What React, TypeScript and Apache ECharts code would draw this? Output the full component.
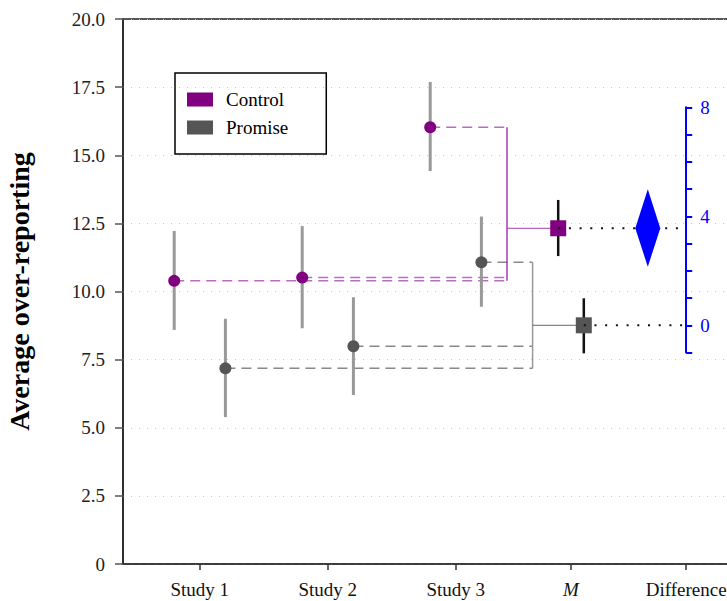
import React, { useEffect, useRef } from 'react';
import * as echarts from 'echarts';

// ---- data ----
const studies = ['Study 1', 'Study 2', 'Study 3'];
const axisLabels = ['Study 1', 'Study 2', 'Study 3', 'M', 'Difference'];
const groups = ['Control', 'Promise'];
const controlMean = [10.39, 10.51, 16.03];
const controlLow = [8.59, 8.65, 14.42];
const controlHigh = [12.22, 12.4, 17.69];
const promiseMean = [7.18, 7.99, 11.07];
const promiseLow = [5.39, 6.2, 9.44];
const promiseHigh = [9.0, 9.79, 12.75];
const pooledMean = [12.32, 8.76]; // Control, Promise
const pooledLow = [11.3, 7.73];
const pooledHigh = [13.36, 9.75];
const diffMean = 3.56;
const diffLow = 2.15;
const diffHigh = 4.99;
const diffTickLabels = [0, 4, 8];

// ---- layout constants ----
const X_POS = [1, 2, 3, 3.9, 4.8];
const OFF = 0.2;
const M_OFF = 0.1;
const JOIN = [3.4, 3.6];
const DIFF_X = 4.5;
const RIGHT_AXIS_X = 4.8;
const X_MIN = 0.4;
const X_MAX = 5.2;
const PX_PER_UNIT = 128;
const SERIF = 'Liberation Serif, Times New Roman, serif';
const PURPLE = '#800080';
const GRAY = '#555555';

type Seg = { a: number[]; b: number[]; style: any };

function buildSegments(): Seg[] {
  const segs: Seg[] = [];
  const cDash = { stroke: 'rgba(160,60,170,0.75)', lineWidth: 1.5, lineDash: [10, 6] };
  const cSolid = { stroke: '#a43cae', lineWidth: 1.5 };
  const cThin = { stroke: '#a43cae', lineWidth: 1 };
  const pDash = { stroke: '#888888', lineWidth: 1.5, lineDash: [10, 6] };
  const pSolid = { stroke: '#999999', lineWidth: 1.5 };
  const pThin = { stroke: '#666666', lineWidth: 1 };
  studies.forEach((_, i) => {
    segs.push({ a: [X_POS[i] - OFF, controlMean[i]], b: [JOIN[0], controlMean[i]], style: cDash });
    segs.push({ a: [X_POS[i] + OFF, promiseMean[i]], b: [JOIN[1], promiseMean[i]], style: pDash });
  });
  segs.push({ a: [JOIN[0], Math.min(...controlMean)], b: [JOIN[0], Math.max(...controlMean)], style: cSolid });
  segs.push({ a: [JOIN[1], Math.min(...promiseMean)], b: [JOIN[1], Math.max(...promiseMean)], style: pSolid });
  segs.push({ a: [JOIN[0], pooledMean[0]], b: [X_POS[3] - M_OFF, pooledMean[0]], style: cThin });
  segs.push({ a: [JOIN[1], pooledMean[1]], b: [X_POS[3] + M_OFF, pooledMean[1]], style: pThin });
  return segs;
}

export default function App() {
  const ref = useRef<HTMLDivElement>(null);
  useEffect(() => {
    if (!ref.current) return;
    const chart = echarts.init(ref.current, undefined, { renderer: 'svg' });
    const segs = buildSegments();
    const dotted = [
      { a: [X_POS[3] - M_OFF, pooledMean[0]], b: [RIGHT_AXIS_X, pooledMean[0]] },
      { a: [X_POS[3] + M_OFF, pooledMean[1]], b: [RIGHT_AXIS_X, pooledMean[1]] },
    ];
    const errBars: { x: number; lo: number; hi: number; color: string; w: number }[] = [];
    studies.forEach((_, i) => {
      errBars.push({ x: X_POS[i] - OFF, lo: controlLow[i], hi: controlHigh[i], color: '#999999', w: 3 });
      errBars.push({ x: X_POS[i] + OFF, lo: promiseLow[i], hi: promiseHigh[i], color: '#999999', w: 3 });
    });
    errBars.push({ x: X_POS[3] - M_OFF, lo: pooledLow[0], hi: pooledHigh[0], color: '#111111', w: 2.5 });
    errBars.push({ x: X_POS[3] + M_OFF, lo: pooledLow[1], hi: pooledHigh[1], color: '#111111', w: 2.5 });

    const lineRender = (list: any[], styleOf: (i: number) => any) => (params: any, api: any) => {
      const s = list[params.dataIndex];
      const p1 = api.coord(s.a);
      const p2 = api.coord(s.b);
      return {
        type: 'line',
        shape: { x1: p1[0], y1: p1[1], x2: p2[0], y2: p2[1] },
        style: styleOf(params.dataIndex),
      };
    };

    const option: any = {
      animation: false,
      textStyle: { fontFamily: SERIF },
      grid: [
        {
          left: 123,
          top: 19,
          height: 545,
          width: (X_MAX - X_MIN) * PX_PER_UNIT,
          containLabel: false,
          outerBoundsMode: 'none',
          show: true,
          borderColor: '#222',
          borderWidth: 1.5,
        },
        {
          left: 123,
          top: 107.3,
          height: 245.25,
          width: (RIGHT_AXIS_X - X_MIN) * PX_PER_UNIT,
          containLabel: false,
          outerBoundsMode: 'none',
          show: false,
        },
      ],
      legend: {
        orient: 'vertical',
        left: 175,
        top: 73,
        icon: 'rect',
        itemWidth: 26,
        itemHeight: 14,
        itemGap: 9,
        padding: [17, 38, 17, 12],
        borderColor: '#000',
        borderWidth: 1.5,
        selectedMode: false,
        textStyle: { fontFamily: SERIF, fontSize: 19, color: '#000', padding: [0, 0, 0, 8] },
        data: groups,
      },
      xAxis: [
        {
          type: 'value',
          gridIndex: 0,
          min: X_MIN,
          max: X_MAX,
          splitLine: { show: false },
          axisLine: { show: true, lineStyle: { color: '#333', width: 1.5 } },
          axisTick: { show: true, customValues: X_POS, length: 6, lineStyle: { color: '#333', width: 1.5 } },
          axisLabel: {
            customValues: X_POS,
            margin: 16,
            fontFamily: SERIF,
            fontSize: 19,
            color: '#111',
            formatter: (v: number) => {
              const i = X_POS.findIndex((p) => Math.abs(p - v) < 1e-6);
              if (i < 0) return '';
              return axisLabels[i] === 'M' ? '{it|M}' : axisLabels[i];
            },
            rich: { it: { fontFamily: SERIF, fontSize: 19, fontStyle: 'italic', color: '#111' } },
          },
        },
        { type: 'value', gridIndex: 1, min: X_MIN, max: RIGHT_AXIS_X, show: false },
      ],
      yAxis: [
        {
          type: 'value',
          gridIndex: 0,
          min: 0,
          max: 20,
          interval: 2.5,
          name: 'Average over-reporting',
          nameLocation: 'middle',
          nameGap: 90,
          nameTextStyle: { fontFamily: SERIF, fontSize: 28, fontWeight: 'bold', color: '#000' },
          axisLine: { show: true, lineStyle: { color: '#222', width: 1.5 } },
          axisTick: { show: true, length: 8, lineStyle: { color: '#555', width: 1.5 } },
          axisLabel: {
            margin: 18,
            fontFamily: SERIF,
            fontSize: 19,
            color: '#222',
            formatter: (v: number) => (v === 0 ? '0' : v.toFixed(1)),
          },
          splitLine: { show: true, lineStyle: { color: '#c8c8c8', width: 1, type: [1, 7] } },
        },
        {
          type: 'value',
          gridIndex: 1,
          position: 'right',
          min: -1,
          max: 8,
          interval: 1,
          axisLine: { show: true, lineStyle: { color: '#0000ff', width: 2 } },
          axisTick: { show: true, length: 6, lineStyle: { color: '#0000ff', width: 2 } },
          axisLabel: {
            margin: 14,
            fontFamily: SERIF,
            fontSize: 19,
            color: '#0000ff',
            formatter: (v: number) => (diffTickLabels.includes(v) ? String(v) : ''),
          },
          splitLine: { show: false },
        },
      ],
      series: [
        {
          type: 'custom',
          name: 'connectors',
          xAxisIndex: 0,
          yAxisIndex: 0,
          z: 2,
          silent: true,
          data: segs.map((s) => [s.a[0], s.a[1], s.b[0], s.b[1]]),
          renderItem: lineRender(segs, (i) => segs[i].style),
        },
        {
          type: 'custom',
          name: 'errorbars',
          xAxisIndex: 0,
          yAxisIndex: 0,
          z: 3,
          silent: true,
          data: errBars.map((e) => [e.x, e.lo, e.hi]),
          renderItem: (params: any, api: any) => {
            const e = errBars[params.dataIndex];
            const p1 = api.coord([e.x, e.lo]);
            const p2 = api.coord([e.x, e.hi]);
            return {
              type: 'line',
              shape: { x1: p1[0], y1: p1[1], x2: p2[0], y2: p2[1] },
              style: { stroke: e.color, lineWidth: e.w },
            };
          },
        },
        {
          type: 'scatter',
          name: 'Control',
          z: 4,
          symbol: 'circle',
          symbolSize: 12,
          itemStyle: { color: PURPLE, opacity: 1 },
          data: studies.map((_, i) => [X_POS[i] - OFF, controlMean[i]]),
        },
        {
          type: 'scatter',
          name: 'Promise',
          z: 4,
          symbol: 'circle',
          symbolSize: 12,
          itemStyle: { color: GRAY, opacity: 1 },
          data: studies.map((_, i) => [X_POS[i] + OFF, promiseMean[i]]),
        },
        {
          type: 'scatter',
          name: 'Control',
          z: 4,
          symbol: 'rect',
          symbolSize: 16,
          itemStyle: { color: PURPLE, opacity: 1 },
          data: [[X_POS[3] - M_OFF, pooledMean[0]]],
        },
        {
          type: 'scatter',
          name: 'Promise',
          z: 4,
          symbol: 'rect',
          symbolSize: 16,
          itemStyle: { color: GRAY, opacity: 1 },
          data: [[X_POS[3] + M_OFF, pooledMean[1]]],
        },
        {
          type: 'custom',
          name: 'dotted',
          xAxisIndex: 0,
          yAxisIndex: 0,
          z: 5,
          silent: true,
          data: dotted.map((s) => [s.a[0], s.a[1], s.b[0], s.b[1]]),
          renderItem: lineRender(dotted, () => ({ stroke: '#111', lineWidth: 2, lineDash: [2, 8.7] })),
        },
        {
          type: 'custom',
          name: 'Difference',
          xAxisIndex: 1,
          yAxisIndex: 1,
          z: 6,
          silent: true,
          data: [[DIFF_X, diffMean, diffLow, diffHigh]],
          renderItem: (params: any, api: any) => {
            const c = api.coord([api.value(0), api.value(1)]);
            const lo = api.coord([api.value(0), api.value(2)]);
            const hi = api.coord([api.value(0), api.value(3)]);
            const hw = 12.5;
            return {
              type: 'polygon',
              shape: { points: [[c[0], hi[1]], [c[0] + hw, c[1]], [c[0], lo[1]], [c[0] - hw, c[1]]] },
              style: { fill: '#0000ff' },
            };
          },
        },
      ],
    };
    chart.setOption(option);
    return () => chart.dispose();
  }, []);
  return (
    <div
      ref={ref}
      style={{ position: 'fixed', left: 0, top: 0, width: 727, height: 601, background: '#fff' }}
    />
  );
}
